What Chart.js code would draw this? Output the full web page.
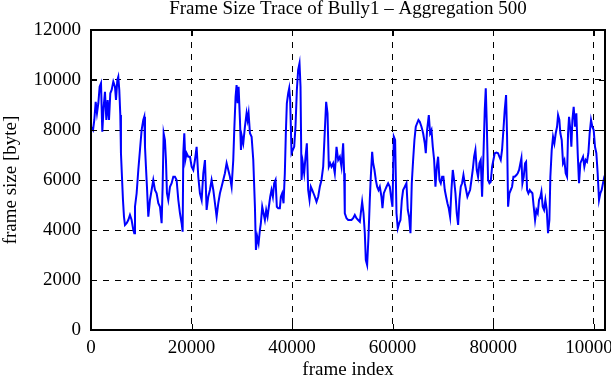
<!DOCTYPE html>
<html>
<head>
<meta charset="utf-8">
<script src="https://cdn.jsdelivr.net/npm/chart.js@4.4.1/dist/chart.umd.min.js"></script>
<style>
  html, body { margin: 0; padding: 0; background: #ffffff; }
  #c { display: block; }
</style>
</head>
<body>
<canvas id="c" width="611" height="380"></canvas>
<script>
const chartTitle = 'Frame Size Trace of Bully1 \u2013 Aggregation 500';
const xAxisTitle = 'frame index';
const yAxisTitle = 'frame size [byte]';

const xTickValues = [0, 20000, 40000, 60000, 80000, 100000];
const yTickValues = [0, 2000, 4000, 6000, 8000, 10000, 12000];

const frameIndex = [
  0, 400, 660, 930, 1190, 1460, 1720, 1990, 2250, 2520, 2780, 3050, 3310, 3580, 3840, 4110, 4440, 4770, 4970, 5240,
  5430, 5630, 5830, 5960, 6160, 6360, 6560, 6760, 7090, 7420, 7750, 8080, 8420, 8610, 8750, 9080, 9410, 9740, 10070, 10400,
  10600, 10740, 10930, 11130, 11400, 11730, 12060, 12390, 12720, 13050, 13390, 13720, 14050, 14250, 14450, 14710, 14910, 15110, 15370, 15710,
  16040, 16370, 16700,
  17030, 17370, 17700, 18030, 18230, 18360, 18560, 18760, 19020, 19350, 19690, 20020, 20350, 20680, 21010, 21340, 21670, 22010, 22340, 22670,
  23000, 23330, 23660, 23990, 24330, 24660, 24990, 25320, 25650, 25980, 26310, 26640, 26980, 27310, 27640, 27970, 28300, 28500, 28760, 28960,
  29160, 29360, 29630, 29830, 30020, 30290, 30620, 30950, 31150, 31350, 31620, 31950, 32280, 32610, 32810, 33070, 33340, 33600,
  33790, 34060, 34320, 34590, 34850, 35120, 35380, 35650, 35910, 36180, 36440, 36710, 36970, 37240, 37570, 37770, 38030, 38300, 38560, 38760,
  38960, 39230, 39430, 39620, 39890, 40150, 40420, 40680, 40950, 41210, 41480, 41680, 41880, 42140, 42410, 42670, 42940, 43200, 43470, 43730,
  44000, 44260, 44530, 44860, 45190, 45520, 45850, 46190, 46520, 46780, 47050, 47310, 47580, 47840, 48170, 48500, 48840, 49170, 49500, 49830,
  50160, 50360, 50490,
  50830, 51160, 51490, 51820, 52150, 52480, 52810, 53140, 53480, 53670, 53940, 54210, 54470, 54670, 54930, 55200, 55460, 55660, 55930, 56130,
  56390, 56660, 56920, 57190, 57450, 57780, 57980, 58250, 58510, 58780, 59110, 59440, 59770, 59970, 60240, 60500, 60770, 61030, 61300, 61560,
  61830, 62090, 62420, 62750, 63020, 63280, 63550, 63810, 64080, 64340, 64610, 64870, 65140, 65400, 65740, 66070, 66400, 66600, 66860,
  67200, 67460, 67730, 67990, 68260, 68520, 68790, 69050, 69320, 69580, 69850, 70110, 70380, 70640, 70910, 71170, 71440, 71700, 71970, 72230,
  72500, 72760, 73030, 73290, 73560, 73820, 74090, 74350, 74620, 74880, 75150, 75410, 75680, 75940, 76210, 76470, 76740, 77000, 77270, 77530,
  77800, 78060, 78330, 78530, 78730, 78990, 79260, 79520, 79790, 80050, 80320, 80650, 80980, 81240, 81510, 81770, 82040, 82300, 82570, 82770,
  82970, 83230, 83500, 83760, 84030, 84290,
  84630, 84890, 85160, 85420, 85620, 85820, 86080, 86350, 86550, 86750, 87010, 87280, 87540, 87810, 88070, 88340, 88600, 88870, 89130, 89400,
  89600, 89860, 90130, 90390, 90660, 90920, 91190, 91380, 91650, 91910, 92180, 92450, 92710, 92910, 93170, 93370, 93640, 93900, 94170, 94430,
  94700, 94900, 95100, 95360, 95560, 95760, 96020, 96290, 96550, 96820, 97080, 97350, 97610, 97880, 98140, 98410, 98670, 98940, 99200, 99470,
  99730, 100000, 100260, 100530, 100790, 101060, 101320, 101590, 101850, 102120, 102250
];

const frameSize = [
  8130, 8000, 8400, 9130, 8670, 9070, 9730, 9870, 7930, 8930, 9530, 8400, 9200, 8400, 9470, 9600, 9930, 9730, 9200, 10000,
  10130, 9600, 8600, 7070, 6130, 5200, 4530, 4200, 4270, 4400, 4600, 4400, 4000, 3870, 4930, 5470, 6400, 7200, 8000, 8400,
  8530, 7330, 6530, 5730, 4530, 5200, 5600, 6000, 5600, 5470, 5070, 4930, 4270, 5730, 7870, 7600, 6800, 5470, 5200, 5730,
  5870, 6130, 6130,
  6000, 5200, 4670, 4270, 3930, 7070, 7870, 6800, 7070, 6930, 6930, 6530, 6400, 6800, 7330, 6130, 5470, 5200, 6270, 6800,
  4800, 5330, 5600, 6000, 5600, 5070, 4530, 5070, 5470, 5730, 6000, 6270, 6670, 6400, 6130, 5730, 6800, 8000, 9330, 9800,
  9070, 9730, 8400, 7200, 7730, 7470, 8130, 8670, 8400, 8670, 7870, 7730, 6800, 4930, 3200, 3730, 3470, 4000,
  4270, 4930, 4670, 4400, 4800, 4530, 4930, 5330, 5600, 5330, 5870, 6000, 4930, 4870, 4870, 5330, 5470, 5070, 6270, 7870,
  9070, 9470, 9670, 9200, 7070, 7200, 7330, 8130, 9600, 10400, 10670, 9730, 6000, 6670, 6270, 6930, 7470, 5600, 5200, 5730,
  5600, 5470, 5330, 5130, 5330, 5730, 6000, 6530, 8000, 9130, 8670, 6530, 6670, 6530, 6670, 6270, 7330, 6800, 6930, 6530,
  7470, 6270, 4670,
  4470, 4400, 4400, 4400, 4470, 4600, 4470, 4400, 4330, 4670, 5130, 4670, 3870, 2800, 2600, 3730, 5200, 6130, 7130, 6670,
  6400, 6000, 5730, 5600, 5730, 5330, 4870, 5470, 5600, 5730, 5870, 5730, 5200, 4930, 7730, 7600, 4670, 4070, 4270, 4400,
  5200, 5600, 5730, 5870, 4800, 4530, 3870, 5870, 6800, 7600, 8130, 8270, 8400, 8330, 8130, 7870, 7470, 7070, 8000,
  8600, 7870, 8000, 7330, 6800, 5730, 6530, 6930, 6000, 5870, 6130, 6130, 5600, 5330, 5070, 4870, 4530, 5600, 6400, 6000,
  5470, 4670, 4200, 5200, 5730, 5870, 6200, 5870, 5600, 5330, 5470, 5600, 6000, 6400, 6930, 7200, 6400, 6130, 6670, 6800,
  5330, 6930, 8800, 9670, 8270, 6000, 5870, 5930, 6530, 6800, 7070, 7100, 7070, 6930, 6800, 7200, 8000, 8800, 9400, 7730,
  4930, 5470, 5600, 5730, 6130, 6130,
  6200, 6270, 6400, 6670, 6870, 5870, 6130, 6670, 6730, 5600, 5470, 5600, 5530, 5470, 4930, 4400, 4800, 4670, 5200, 5330,
  5530, 4930, 4800, 5200, 4800, 3870, 4400, 6130, 7200, 7730, 7470, 7870, 8130, 8600, 8400, 7870, 7600, 6670, 6800, 6270,
  6130, 7870, 8530, 8000, 7330, 8400, 8930, 8130, 8670, 7070, 5870, 6670, 6800, 6930, 6530, 6800, 6730, 7070, 7870, 8400,
  8130, 8000, 7330, 7070, 6270, 5200, 5470, 5600, 5870, 6130, 6200
];

const FONT = "'Liberation Serif', 'Times New Roman', Times, serif";
const FONT_SIZE = 19;

const framePlugin = {
  id: 'gnuplotFrame',
  afterDraw(chart) {
    const { ctx, chartArea: a, scales } = chart;
    const xs = scales.x, ys = scales.y;
    const tl = 6;
    ctx.save();
    ctx.setLineDash([]);
    ctx.strokeStyle = '#000000';
    ctx.lineWidth = 1;
    ctx.beginPath();
    xTickValues.forEach(v => {
      const px = Math.round(xs.getPixelForValue(v)) + 0.5;
      ctx.moveTo(px, a.bottom); ctx.lineTo(px, a.bottom - tl);
      ctx.moveTo(px, a.top); ctx.lineTo(px, a.top + tl);
    });
    yTickValues.forEach(v => {
      const py = Math.round(ys.getPixelForValue(v)) + 0.5;
      ctx.moveTo(a.left, py); ctx.lineTo(a.left + tl, py);
      ctx.moveTo(a.right, py); ctx.lineTo(a.right - tl, py);
    });
    ctx.stroke();
    ctx.lineWidth = 2;
    ctx.strokeRect(a.left, a.top, a.right - a.left, a.bottom - a.top);
    ctx.restore();
  }
};

const points = frameIndex.map((x, i) => ({ x: x, y: frameSize[i] }));

new Chart(document.getElementById('c').getContext('2d'), {
  type: 'line',
  data: {
    datasets: [{
      data: points,
      borderColor: '#0000ff',
      borderWidth: 2,
      pointRadius: 0,
      tension: 0,
      fill: false
    }]
  },
  options: {
    responsive: false,
    animation: false,
    devicePixelRatio: 1,
    layout: { padding: { left: 0, right: 6, top: 0, bottom: 0 } },
    plugins: {
      legend: { display: false },
      tooltip: { enabled: false },
      title: {
        display: true,
        fullSize: false,
        text: chartTitle,
        color: '#000000',
        font: { family: FONT, size: FONT_SIZE, weight: 'normal', lineHeight: 1 },
        padding: { top: 0, bottom: 30 - FONT_SIZE }
      }
    },
    scales: {
      x: {
        type: 'linear',
        min: 0,
        max: 102250,
        afterFit(s) { s.height = 50; s.paddingLeft = 0; s.paddingRight = 0; },
        afterBuildTicks(s) { s.ticks = xTickValues.map(v => ({ value: v })); },
        ticks: {
          color: '#000000',
          font: { family: FONT, size: FONT_SIZE },
          padding: 7,
          maxRotation: 0,
          minRotation: 0,
          autoSkip: false,
          callback: v => String(v)
        },
        grid: { color: '#000000', lineWidth: 1, drawTicks: false },
        border: { display: false, dash: [6, 6] },
        title: {
          display: true, text: xAxisTitle, color: '#000000',
          font: { family: FONT, size: FONT_SIZE, lineHeight: 1 }, padding: 0
        }
      },
      y: {
        type: 'linear',
        min: 0,
        max: 12000,
        afterFit(s) { s.width = 91; s.paddingTop = 0; s.paddingBottom = 0; },
        afterBuildTicks(s) { s.ticks = yTickValues.map(v => ({ value: v })); },
        ticks: {
          color: '#000000',
          font: { family: FONT, size: FONT_SIZE },
          padding: 10,
          autoSkip: false,
          callback: v => String(v)
        },
        grid: { color: '#000000', lineWidth: 1, drawTicks: false },
        border: { display: false, dash: [6, 6] },
        title: {
          display: true, text: yAxisTitle, color: '#000000',
          font: { family: FONT, size: FONT_SIZE }, padding: 0
        }
      }
    }
  },
  plugins: [framePlugin]
});
</script>
</body>
</html>
